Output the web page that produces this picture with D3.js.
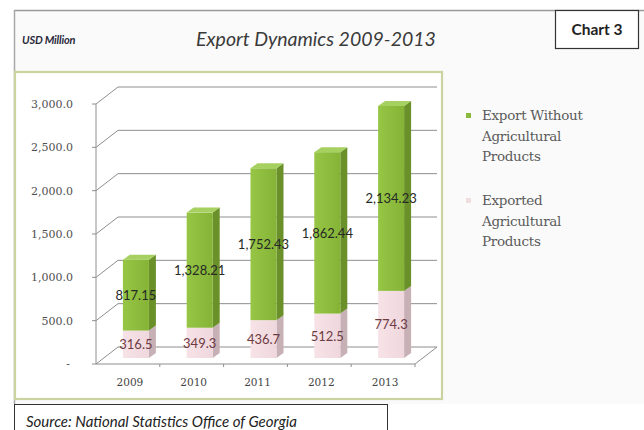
<!DOCTYPE html>
<html>
<head>
<meta charset="utf-8">
<script src="https://cdn.jsdelivr.net/npm/d3@7/dist/d3.min.js"></script>
<style>
  html, body { margin: 0; padding: 0; background: #ffffff; }
  svg { display: block; }
</style>
</head>
<body>
<svg id="chart" width="644" height="430"></svg>
<script>
// Export data, USD million
const years = ["2009", "2010", "2011", "2012", "2013"];
const agricultural = [316.5, 349.3, 436.7, 512.5, 774.3];
const nonAgricultural = [817.15, 1328.21, 1752.43, 1862.44, 2134.23];
const yTicks = [0, 500, 1000, 1500, 2000, 2500, 3000];
const legendLabels = [
  ["Export Without", "Agricultural", "Products"],
  ["Exported", "Agricultural", "Products"]
];

const svg = d3.select("#chart");

// Frame and panels
svg.append("rect").attr("x", 14).attr("y", 10).attr("width", 640).attr("height", 394)
  .attr("fill", "#fafafa");
svg.append("line").attr("x1", 14).attr("x2", 644).attr("y1", 10.5).attr("y2", 10.5)
  .attr("stroke", "#9a9a9a").attr("stroke-width", 1.5);
svg.append("line").attr("x1", 14.5).attr("x2", 14.5).attr("y1", 10).attr("y2", 404)
  .attr("stroke", "#a8a8a8").attr("stroke-width", 1.5);

// Plot panel with olive border
svg.append("rect").attr("x", 15).attr("y", 72).attr("width", 427).attr("height", 327)
  .attr("fill", "#ffffff").attr("stroke", "#cdd3a0").attr("stroke-width", 2.2);

// Header texts
svg.append("text").attr("x", 22).attr("y", 44)
  .attr("font-family", "Lato, 'Open Sans', sans-serif").attr("font-style", "italic")
  .attr("font-weight", 700).attr("font-size", 11).attr("fill", "#2a2a3a")
  .attr("letter-spacing", -0.2)
  .text("USD Million");

svg.append("text").attr("x", 316).attr("y", 46).attr("text-anchor", "middle")
  .attr("font-family", "Lato, 'Open Sans', sans-serif").attr("font-style", "italic")
  .attr("font-size", 19.5).attr("fill", "#3a3a3a")
  .text("Export Dynamics 2009-2013");

svg.append("rect").attr("x", 555.5).attr("y", 10.5).attr("width", 83).attr("height", 38)
  .attr("fill", "#ffffff").attr("stroke", "#333333").attr("stroke-width", 1.2);
svg.append("text").attr("x", 597).attr("y", 35).attr("text-anchor", "middle")
  .attr("font-family", "Lato, 'Open Sans', sans-serif").attr("font-weight", 700)
  .attr("font-size", 15.5).attr("fill", "#222222")
  .text("Chart 3");

// Scales (front plane of the 3D box)
const y = d3.scaleLinear().domain([0, 3000]).range([364, 104]);
const x = d3.scaleBand().domain(years).range([96, 415]).padding(0);

// 3D geometry
const wallDx = 22, wallDy = -17;   // depth of the box
const barDx = 8, barDy = -6;       // bars sit slightly behind the front plane
const sideDx = 7, sideDy = -5;     // bar depth
const barW = 26;

const gridColor = "#8e8e8e";
const g = svg.append("g");

// Back-wall gridlines (with left-wall diagonals)
yTicks.filter(t => t > 0).forEach(t => {
  const yy = y(t);
  g.append("path")
    .attr("d", `M${x.range()[0]},${yy} L${x.range()[0] + wallDx},${yy + wallDy} L${437},${yy + wallDy}`)
    .attr("fill", "none").attr("stroke", gridColor).attr("stroke-width", 1);
});

// Floor
const y0 = y(0);
g.append("path")
  .attr("d", `M${x.range()[0]},${y0} L${x.range()[1]},${y0} L${x.range()[1] + wallDx},${y0 + wallDy} L${x.range()[0] + wallDx},${y0 + wallDy} Z`)
  .attr("fill", "none").attr("stroke", gridColor).attr("stroke-width", 1);

// Category tick marks on floor front edge
years.forEach((yr, i) => {
  const xx = x(yr);
  if (i > 0) {
    g.append("line").attr("x1", xx).attr("x2", xx).attr("y1", y0).attr("y2", y0 + 3)
      .attr("stroke", gridColor).attr("stroke-width", 1);
  }
});
g.append("line").attr("x1", x.range()[1]).attr("x2", x.range()[1]).attr("y1", y0).attr("y2", y0 + 3)
  .attr("stroke", gridColor).attr("stroke-width", 1);

// Value axis
g.append("line").attr("x1", 96).attr("x2", 96).attr("y1", y(3000)).attr("y2", y0)
  .attr("stroke", gridColor).attr("stroke-width", 1);
yTicks.forEach(t => {
  g.append("line").attr("x1", 92).attr("x2", 96).attr("y1", y(t)).attr("y2", y(t))
    .attr("stroke", gridColor).attr("stroke-width", 1);
});

const fmtAxis = d3.format(",.1f");
g.selectAll(".ytick").data(yTicks).join("text")
  .attr("class", "ytick")
  .attr("x", d => d === 0 ? 70 : 73)
  .attr("y", d => y(d) + 4)
  .attr("text-anchor", "end")
  .attr("font-family", "'DejaVu Serif', serif").attr("font-size", 11)
  .attr("fill", "#505050")
  .text(d => d === 0 ? "-" : fmtAxis(d));

// Category labels
g.selectAll(".xlabel").data(years).join("text")
  .attr("class", "xlabel")
  .attr("x", d => x(d) + x.bandwidth() / 2 + 2)
  .attr("y", 386)
  .attr("text-anchor", "middle")
  .attr("font-family", "'DejaVu Serif', serif").attr("font-size", 10.5)
  .attr("fill", "#444444")
  .text(d => d);

// Bars
const defs = svg.append("defs");
const gGrad = defs.append("linearGradient").attr("id", "greenFront").attr("x1", 0).attr("x2", 1);
gGrad.append("stop").attr("offset", 0).attr("stop-color", "#97c646");
gGrad.append("stop").attr("offset", 1).attr("stop-color", "#84b336");
const pGrad = defs.append("linearGradient").attr("id", "pinkFront").attr("x1", 0).attr("x2", 1);
pGrad.append("stop").attr("offset", 0).attr("stop-color", "#f7e3e7");
pGrad.append("stop").attr("offset", 1).attr("stop-color", "#efd7dd");

const series = [
  { key: "agri", values: agricultural, front: "url(#pinkFront)", side: "#c7b0b6", top: "#f6e6ea" },
  { key: "non", values: nonAgricultural, front: "url(#greenFront)", side: "#6a902a", top: "#a6d05f" }
];

const bars = svg.append("g");
years.forEach((yr, i) => {
  const fx0 = x(yr) + (x.bandwidth() - barW) / 2 + barDx;
  const fx1 = fx0 + barW;
  let base = 0;
  series.forEach((s, si) => {
    const v = s.values[i];
    const yb = y(base) + barDy;
    const yt = y(base + v) + barDy;
    // side face
    bars.append("path")
      .attr("d", `M${fx1},${yb} L${fx1 + sideDx},${yb + sideDy} L${fx1 + sideDx},${yt + sideDy} L${fx1},${yt} Z`)
      .attr("fill", s.side);
    // front face
    bars.append("rect").attr("x", fx0).attr("y", yt).attr("width", barW).attr("height", yb - yt)
      .attr("fill", s.front);
    // top face on the upper segment
    if (si === series.length - 1) {
      bars.append("path")
        .attr("d", `M${fx0},${yt} L${fx0 + sideDx},${yt + sideDy} L${fx1 + sideDx},${yt + sideDy} L${fx1},${yt} Z`)
        .attr("fill", s.top);
    }
    base += v;
  });
});

// Data labels
const fmtNon = d3.format(",.2f");
const fmtAgri = d3.format(",.1f");
const labels = svg.append("g")
  .attr("font-family", "Lato, 'Open Sans', sans-serif").attr("font-size", 13)
  .attr("text-anchor", "middle");
years.forEach((yr, i) => {
  const cx = x(yr) + x.bandwidth() / 2 + barDx;
  const a = agricultural[i], n = nonAgricultural[i];
  labels.append("text")
    .attr("x", cx).attr("y", (y(0) + y(a)) / 2 + barDy + 5)
    .attr("fill", "#6e3b42")
    .text(fmtAgri(a));
  labels.append("text")
    .attr("x", cx).attr("y", (y(a) + y(a + n)) / 2 + barDy + 5)
    .attr("fill", "#262a25")
    .text(fmtNon(n));
});

// Legend
const legendColors = ["#8ab83c", "#efdde0"];
const legendTop = [116, 201];
const legend = svg.append("g");
legendLabels.forEach((lines, k) => {
  legend.append("rect").attr("x", 466).attr("y", legendTop[k] - 3).attr("width", 5).attr("height", 5)
    .attr("fill", legendColors[k]);
  lines.forEach((ln, j) => {
    legend.append("text")
      .attr("x", 482).attr("y", legendTop[k] + 4 + j * 20.5)
      .attr("font-family", "'DejaVu Serif', serif").attr("font-size", 13.5)
      .attr("letter-spacing", -0.3)
      .attr("fill", "#5a5a5a")
      .text(ln);
  });
});

// Source note
svg.append("rect").attr("x", 14.5).attr("y", 404.5).attr("width", 373).attr("height", 40)
  .attr("fill", "#ffffff").attr("stroke", "#333333").attr("stroke-width", 1);
svg.append("text").attr("x", 26).attr("y", 427)
  .attr("font-family", "Lato, 'Open Sans', sans-serif").attr("font-style", "italic")
  .attr("font-size", 15).attr("fill", "#222222")
  .text("Source: National Statistics Office of Georgia");
</script>
</body>
</html>
